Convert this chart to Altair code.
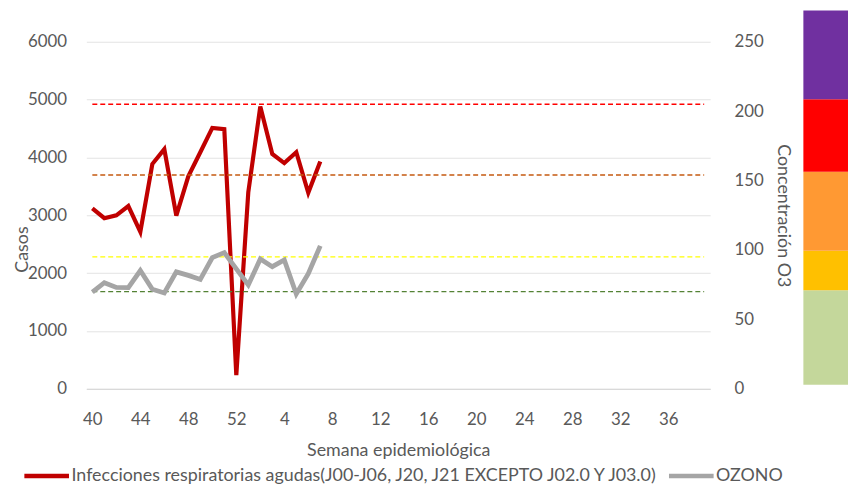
import altair as alt
import pandas as pd

# Categories: epidemiological weeks 40..52 then 1..39
semanas = [str(w) for w in list(range(40, 53)) + list(range(1, 40))]
etiquetas_x = ["40", "44", "48", "52", "4", "8", "12", "16", "20", "24", "28", "32", "36"]

# Observed weeks (40..52, 1..7)
semanas_obs = ["40", "41", "42", "43", "44", "45", "46", "47", "48", "49", "50", "51", "52",
               "1", "2", "3", "4", "5", "6", "7"]
casos = [3120, 2950, 3000, 3160, 2714, 3886, 4143, 2995, 3674, 4090, 4510, 4490, 235,
         3400, 4880, 4060, 3903, 4091, 3389, 3931]
ozono = [69.6, 76.4, 73.0, 72.9, 85.2, 71.7, 69.0, 84.2, 81.7, 78.8, 94.5, 98.1, 86.4,
         74.8, 93.5, 88.0, 92.8, 68.3, 82.9, 103.0]

# Ozone threshold levels (dashed reference lines, right axis)
umbrales = [70, 95, 154, 205]
colores_umbral = ["#548235", "#FFFF00", "#C55A11", "#FF0000"]

# Colour bar on the right (ozone scale bands)
banda_inf = [3, 71, 99.5, 156.4, 208.6]
banda_sup = [71, 99.5, 156.4, 208.6, 272.5]
banda_color = ["#C4D79B", "#FFC000", "#FF9933", "#FF0000", "#7030A0"]

serie_ira = "Infecciones respiratorias agudas(J00-J06, J20, J21 EXCEPTO J02.0 Y J03.0)"
serie_oz = "OZONO"

TXT = "#595959"
FS = 17
FT = 18
FL = 18

df_ira = pd.DataFrame({"semana": semanas_obs, "valor": casos, "serie": serie_ira})
df_oz = pd.DataFrame({"semana": semanas_obs, "valor": ozono, "serie": serie_oz})
df_umb = pd.DataFrame([
    {"semana": s, "valor": u, "nivel": str(i), "c": c}
    for i, (u, c) in enumerate(zip(umbrales, colores_umbral)) for s in semanas
])
df_band = pd.DataFrame({"lo": banda_inf, "hi": banda_sup, "c": banda_color})

x_enc = alt.X(
    "semana:N",
    scale=alt.Scale(type="point", domain=semanas, padding=0.5),
    sort=semanas,
    axis=alt.Axis(
        title="Semana epidemiológica", values=etiquetas_x, labelAngle=0,
        ticks=False, tickSize=0, grid=False, domainColor="#D9D9D9", domainWidth=1.2,
        labelPadding=23, titlePadding=14, labelFontSize=FS, titleFontSize=FT,
        labelColor=TXT, titleColor=TXT, titleFontWeight="normal",
    ),
)

color_enc = alt.Color(
    "serie:N",
    scale=alt.Scale(domain=[serie_ira, serie_oz], range=["#C00000", "#A5A5A5"]),
    legend=alt.Legend(title=None),
)

linea_ira = alt.Chart(df_ira).mark_line(strokeWidth=4.2).encode(
    x=x_enc,
    y=alt.Y(
        "valor:Q",
        scale=alt.Scale(domain=[0, 6000], nice=False),
        axis=alt.Axis(
            title="Casos", values=[0, 1000, 2000, 3000, 4000, 5000, 6000], format="d",
            grid=True, gridColor="#E3E3E3", domain=False, ticks=False, tickSize=0,
            labelPadding=20, labelFontSize=FS, titleFontSize=FT, labelColor=TXT,
            titleColor=TXT, titleFontWeight="normal", titleX=-64, titleY=209,
            titleAngle=270, titleAlign="center", titleBaseline="middle",
        ),
    ),
    color=color_enc,
)

y_oz = alt.Y(
    "valor:Q",
    scale=alt.Scale(domain=[0, 250], nice=False),
    axis=alt.Axis(
        title="Concentración O3", orient="right", values=[0, 50, 100, 150, 200, 250],
        grid=False, domain=False, ticks=False, tickSize=0, labelPadding=24,
        titlePadding=10, labelFontSize=FS, titleFontSize=FT, labelColor=TXT,
        titleColor=TXT, titleFontWeight="normal",
    ),
)

lineas_umbral = alt.Chart(df_umb).mark_line(strokeWidth=1.4, strokeDash=[5, 3]).encode(
    x=x_enc,
    y=y_oz,
    detail="nivel:N",
    stroke=alt.Stroke("c:N", scale=None),
)

linea_oz = alt.Chart(df_oz).mark_line(strokeWidth=4.8).encode(
    x=x_enc,
    y=y_oz,
    color=color_enc,
)

principal = alt.layer(
    linea_ira, alt.layer(lineas_umbral, linea_oz)
).resolve_scale(y="independent").properties(width=629, height=350)

barra = alt.Chart(df_band).mark_rect().encode(
    y=alt.Y("lo:Q", scale=alt.Scale(domain=[0, 250], nice=False), axis=None),
    y2="hi:Q",
    color=alt.Color("c:N", scale=None),
).properties(width=45, height=350)

chart = alt.hconcat(principal, barra, spacing=12).properties(
    padding={"left": 6, "top": 0, "right": 0, "bottom": 2}
).configure(font="Lato").configure_view(stroke=None).configure_legend(
    orient="none", legendX=-65, legendY=413, direction="horizontal",
    symbolType="stroke", symbolSize=2025, symbolStrokeWidth=4.5,
    labelFontSize=FL, labelColor=TXT, labelLimit=1000, labelOffset=0,
    columnPadding=0,
)

chart.save("out.html", embed_options={"renderer": "svg", "actions": False})
